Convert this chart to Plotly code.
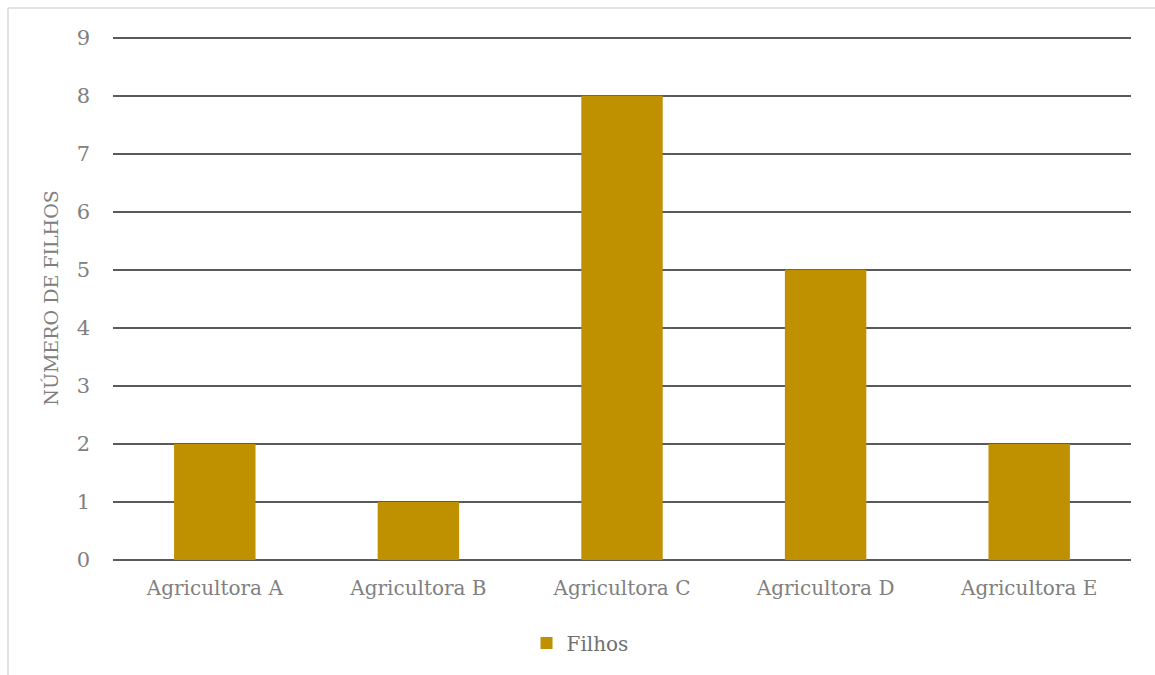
import plotly.graph_objects as go

categories = ["Agricultora A", "Agricultora B", "Agricultora C", "Agricultora D", "Agricultora E"]
filhos = [2, 1, 8, 5, 2]
y_ticks = [0, 1, 2, 3, 4, 5, 6, 7, 8, 9]
y_max = 9.03

W, H = 1155, 675
ML, MR, MT, MB = 113, 24, 36, 115
PW, PH = W - ML - MR, H - MT - MB

font_family = "DejaVu Serif, Liberation Serif, serif"
text_color = "#808080"
grid_color = "#5a5a5a"

fig = go.Figure()
fig.add_trace(go.Bar(
    x=categories,
    y=filhos,
    name="Filhos",
    marker=dict(color="#BF9000", line=dict(width=0)),
))

fig.update_layout(
    width=W,
    height=H,
    margin=dict(l=ML, r=MR, t=MT, b=MB, autoexpand=False),
    paper_bgcolor="white",
    plot_bgcolor="white",
    bargap=0.6,
    font=dict(family=font_family, color=text_color, size=20),
    showlegend=True,
    legend=dict(
        orientation="h",
        x=(580 - ML) / PW,
        xanchor="center",
        y=-(643 - (MT + PH)) / PH,
        yanchor="middle",
        font=dict(size=20, color="#707070"),
        itemsizing="constant",
    ),
    xaxis=dict(
        showgrid=False,
        showline=False,
        zeroline=False,
        tickfont=dict(size=20, color=text_color),
        ticks="",
        ticklabelstandoff=14,
    ),
    yaxis=dict(
        range=[0, y_max],
        tickvals=y_ticks,
        showgrid=True,
        gridcolor=grid_color,
        gridwidth=1.6,
        zeroline=True,
        zerolinecolor=grid_color,
        zerolinewidth=1.6,
        showline=False,
        ticks="",
        tickfont=dict(size=21, color=text_color),
        ticklabelstandoff=22,
        title=dict(text="NÚMERO DE FILHOS", font=dict(size=19, color=text_color), standoff=12),
    ),
    shapes=[
        dict(type="line", xref="paper", yref="paper",
             x0=(8 - ML) / PW, x1=(W + 5 - ML) / PW,
             y0=(H - MB - 8) / PH, y1=(H - MB - 8) / PH,
             line=dict(color="#d9d9d9", width=1.5)),
        dict(type="line", xref="paper", yref="paper",
             x0=(8 - ML) / PW, x1=(8 - ML) / PW,
             y0=(H - MB - 8) / PH, y1=-(MB + 5) / PH,
             line=dict(color="#d9d9d9", width=1.5)),
    ],
)

fig.write_html("out.html")
